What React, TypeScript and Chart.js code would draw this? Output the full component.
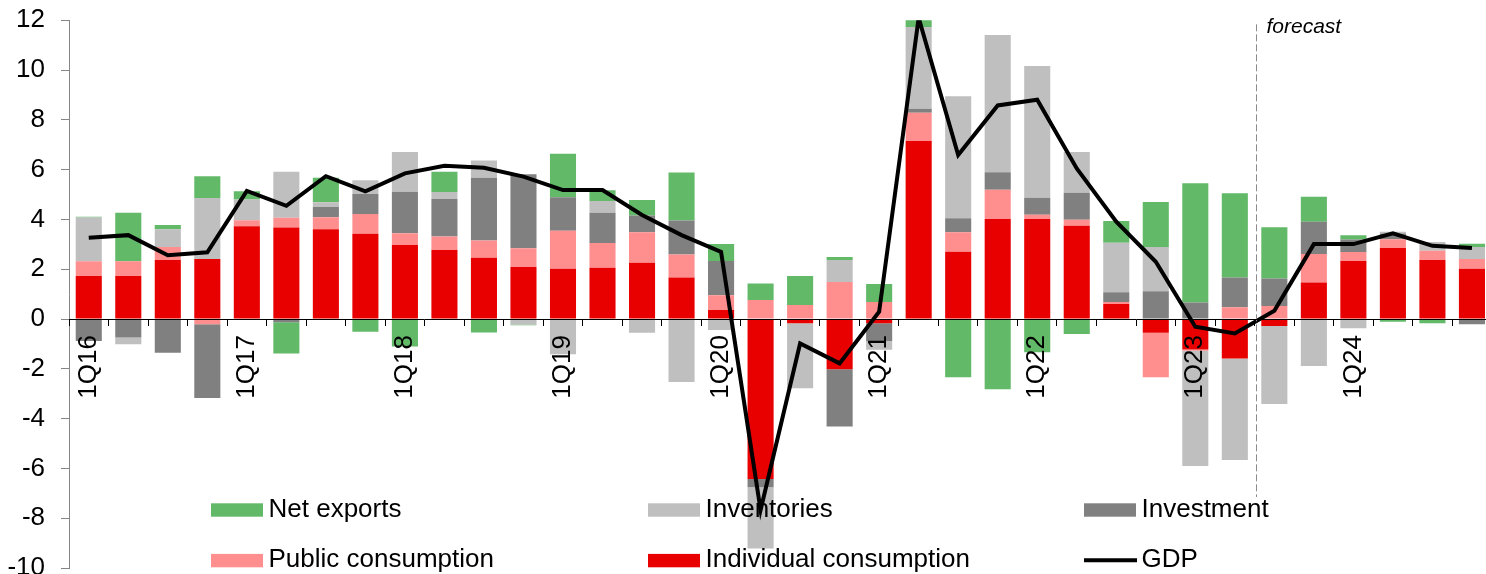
import React, { useEffect, useRef } from "react";
import { Chart, registerables } from "chart.js";

Chart.register(...registerables);

// Quarterly GDP growth decomposition, percentage-point contributions
const quarters = [
  "1Q16", "2Q16", "3Q16", "4Q16",
  "1Q17", "2Q17", "3Q17", "4Q17",
  "1Q18", "2Q18", "3Q18", "4Q18",
  "1Q19", "2Q19", "3Q19", "4Q19",
  "1Q20", "2Q20", "3Q20", "4Q20",
  "1Q21", "2Q21", "3Q21", "4Q21",
  "1Q22", "2Q22", "3Q22", "4Q22",
  "1Q23", "2Q23", "3Q23", "4Q23",
  "1Q24", "2Q24", "3Q24", "4Q24",
];

const individualConsumption = [
  1.73, 1.73, 2.37, 2.41,
  3.73, 3.68, 3.61, 3.43,
  2.97, 2.77, 2.46, 2.09,
  2.02, 2.06, 2.26, 1.67,
  0.36, -6.43, -0.17, -2.02,
  -0.17, 7.15, 2.7, 4.02,
  4.02, 3.75, 0.6, -0.55,
  -1.22, -1.58, -0.28, 1.47,
  2.33, 2.85, 2.37, 2.02,
];

const publicConsumption = [
  0.59, 0.59, 0.52, -0.21,
  0.24, 0.39, 0.48, 0.79,
  0.48, 0.55, 0.69, 0.75,
  1.53, 0.99, 1.23, 0.92,
  0.6, 0.76, 0.56, 1.49,
  0.68, 1.14, 0.79, 1.17,
  0.17, 0.24, 0.08, -1.79,
  -0.05, 0.47, 0.52, 1.14,
  0.36, 0.36, 0.37, 0.39,
];

const investment = [
  -0.88, -0.74, -1.35, -2.96,
  0, -0.13, 0.41, 0.8,
  1.66, 1.5, 2.53, 2.98,
  1.34, 1.22, 0.67, 1.37,
  1.37, -0.33, 0, -2.3,
  -0.71, 0.16, 0.56, 0.71,
  0.68, 1.08, 0.4, 1.12,
  0.66, 1.2, 1.11, 1.3,
  0.51, 0.23, 0, -0.21,
];

const inventories = [
  1.76, -0.27, 0.72, 2.45,
  0.83, 1.85, 0.19, 0.56,
  1.6, 0.28, 0.69, -0.22,
  -1.41, 0.47, -0.55, -2.53,
  -0.44, -2.46, -2.61, 0.88,
  -0.35, 3.28, 4.9, 5.51,
  5.29, 1.64, 1.98, 1.77,
  -4.63, -4.08, -3.13, -1.89,
  -0.37, 0.07, 0.35, 0.48,
];

const netExports = [
  0.03, 1.95, 0.17, 0.88,
  0.33, -1.25, 0.99, -0.51,
  -1.1, 0.82, -0.54, -0.03,
  1.75, 0.43, 0.62, 1.93,
  0.68, 0.67, 1.17, 0.12,
  0.73, 0.3, -2.34, -2.82,
  -1.33, -0.6, 0.88, 1.81,
  4.79, 3.38, 2.06, 1.0,
  0.17, -0.11, -0.17, 0.13,
];

const gdp = [
  3.27, 3.37, 2.56, 2.68,
  5.15, 4.55, 5.74, 5.13,
  5.85, 6.16, 6.08, 5.72,
  5.18, 5.18, 4.18, 3.37,
  2.7, -7.67, -0.98, -1.78,
  0.29, 12.1, 6.59, 8.58,
  8.81, 6.05, 3.91, 2.3,
  -0.31, -0.58, 0.33, 3.01,
  3.01, 3.44, 2.94, 2.85,
];

const yMin = -10;
const yMax = 12;
const yStep = 2;
const firstForecastQuarter = "3Q23";
const forecastLabel = "forecast";

const COLORS = {
  individual: "#e80000",
  public: "#ff8f8f",
  investment: "#808080",
  inventories: "#bfbfbf",
  netExports: "#62b968",
  gdp: "#000000",
};

const FONT = "'Liberation Sans', Arial, Helvetica, sans-serif";

type LegendEntry = { label: string; color: string; kind: "box" | "line"; col: number; row: number };

const legendEntries: LegendEntry[] = [
  { label: "Net exports", color: COLORS.netExports, kind: "box", col: 0, row: 0 },
  { label: "Inventories", color: COLORS.inventories, kind: "box", col: 1, row: 0 },
  { label: "Investment", color: COLORS.investment, kind: "box", col: 2, row: 0 },
  { label: "Public consumption", color: COLORS.public, kind: "box", col: 0, row: 1 },
  { label: "Individual consumption", color: COLORS.individual, kind: "box", col: 1, row: 1 },
  { label: "GDP", color: COLORS.gdp, kind: "line", col: 2, row: 1 },
];

// Forecast divider and label, drawn after the bars and line
const forecastPlugin = {
  id: "forecastMarker",
  afterDatasetsDraw(chart: any) {
    const { ctx, chartArea, scales } = chart;
    const xs = scales.x;
    const ys = scales.y;
    const idx = quarters.indexOf(firstForecastQuarter);
    const x = Math.round((xs.getPixelForValue(idx - 1) + xs.getPixelForValue(idx)) / 2 + 1) + 0.5;
    ctx.save();
    ctx.strokeStyle = "#8c8c8c";
    ctx.lineWidth = 1;
    ctx.setLineDash([7, 3]);
    ctx.beginPath();
    ctx.moveTo(x, chartArea.top + 4);
    ctx.lineTo(x, ys.getPixelForValue(-7.15));
    ctx.stroke();
    ctx.setLineDash([]);
    ctx.fillStyle = "#000";
    ctx.font = `italic 21px ${FONT}`;
    ctx.textBaseline = "alphabetic";
    ctx.textAlign = "left";
    ctx.fillText(forecastLabel, x + 10, chartArea.top + 12.5);
    ctx.restore();
  },
};

// Legend laid over the lower part of the plot area, two rows of three
const legendPlugin = {
  id: "overlayLegend",
  afterDraw(chart: any) {
    const { ctx } = chart;
    const colX = [211, 648, 1084];
    const rowBase = [516.7, 567.3];
    ctx.save();
    ctx.font = `26px ${FONT}`;
    ctx.textBaseline = "alphabetic";
    ctx.textAlign = "left";
    for (const e of legendEntries) {
      const x = colX[e.col];
      const base = rowBase[e.row];
      if (e.kind === "box") {
        ctx.fillStyle = e.color;
        ctx.fillRect(x, base - 13.4, 52, 13.4);
      } else {
        ctx.strokeStyle = e.color;
        ctx.lineWidth = 4;
        ctx.beginPath();
        ctx.moveTo(x, base - 7);
        ctx.lineTo(x + 53, base - 7);
        ctx.stroke();
      }
      ctx.fillStyle = "#000";
      ctx.fillText(e.label, x + 57.5, base);
    }
    ctx.restore();
  },
};

export default function App() {
  const canvasRef = useRef<HTMLCanvasElement | null>(null);

  useEffect(() => {
    const canvas = canvasRef.current;
    if (!canvas) return;

    const bar = (label: string, data: number[], color: string) => ({
      type: "bar" as const,
      label,
      data,
      backgroundColor: color,
      borderWidth: 0,
      stack: "components",
      order: 1,
      barPercentage: 0.66,
      categoryPercentage: 1,
    });

    const chart = new Chart(canvas, {
      type: "bar",
      data: {
        labels: quarters,
        datasets: [
          {
            type: "line" as const,
            label: "GDP",
            data: gdp,
            borderColor: COLORS.gdp,
            borderWidth: 4,
            pointRadius: 0,
            fill: false,
            tension: 0,
            stack: "gdp",
            order: 0,
          } as any,
          bar("Individual consumption", individualConsumption, COLORS.individual),
          bar("Public consumption", publicConsumption, COLORS.public),
          bar("Investment", investment, COLORS.investment),
          bar("Inventories", inventories, COLORS.inventories),
          bar("Net exports", netExports, COLORS.netExports),
        ],
      },
      options: {
        responsive: false,
        maintainAspectRatio: false,
        animation: false,
        devicePixelRatio: 1,
        layout: { padding: { top: 20.3, right: 28.3, bottom: 32, left: 0 } },
        plugins: {
          legend: { display: false },
          tooltip: { enabled: false },
        },
        scales: {
          x: {
            type: "category",
            stacked: true,
            position: { y: 0 } as any,
            offset: true,
            grid: {
              display: true,
              drawOnChartArea: false,
              drawTicks: true,
              tickLength: 6,
              color: "#000",
              offset: true,
              z: 1,
            },
            border: { display: true, color: "#000", width: 1, z: 1 },
            ticks: {
              autoSkip: false,
              maxRotation: 90,
              minRotation: 90,
              padding: 10,
              color: "#000",
              z: 1,
              font: { family: FONT, size: 26 },
              callback: (_v: any, i: number) => (quarters[i].startsWith("1Q") ? quarters[i] : ""),
            },
          },
          y: {
            stacked: true,
            min: yMin,
            max: yMax,
            afterFit: (s: any) => {
              s.width = 69;
              s.paddingTop = 0;
              s.paddingBottom = 0;
            },
            grid: {
              display: true,
              drawOnChartArea: false,
              drawTicks: true,
              tickLength: 8,
              color: "#868686",
            },
            border: { display: true, color: "#868686", width: 1 },
            ticks: {
              stepSize: yStep,
              padding: 16,
              color: "#000",
              font: { family: FONT, size: 26 },
            },
          },
        },
      },
      plugins: [forecastPlugin, legendPlugin],
    });

    return () => chart.destroy();
  }, []);

  return (
    <div
      style={{
        position: "fixed",
        left: 0,
        top: 0,
        width: 1486,
        height: 574,
        overflow: "hidden",
        background: "#fff",
      }}
    >
      <canvas ref={canvasRef} width={1520} height={600} style={{ display: "block" }} />
    </div>
  );
}
